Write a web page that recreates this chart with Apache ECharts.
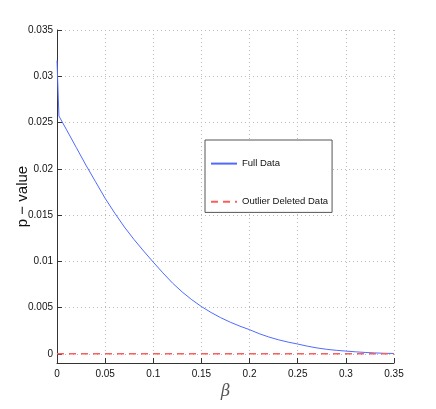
<!DOCTYPE html>
<html>
<head>
<meta charset="utf-8">
<script src="https://cdn.jsdelivr.net/npm/echarts@6/dist/echarts.min.js"></script>
<style>html,body{margin:0;padding:0;background:#fff;}#c{width:436px;height:409px;}</style>
</head>
<body>
<div id="c"></div>
<script>
const betas = [0, 0.002, 0.01, 0.02, 0.03, 0.04, 0.05, 0.06, 0.07, 0.08, 0.09, 0.1, 0.11, 0.12, 0.13, 0.14, 0.15, 0.16, 0.17, 0.18, 0.19, 0.2, 0.21, 0.22, 0.23, 0.24, 0.25, 0.26, 0.27, 0.28, 0.29, 0.3, 0.31, 0.32, 0.33, 0.34, 0.35];
const fullData = [0.0317, 0.0257, 0.0242, 0.0223, 0.0204, 0.0186, 0.0168, 0.0152, 0.0137, 0.01235, 0.0111, 0.0099, 0.00874, 0.00764, 0.00668, 0.00584, 0.0051, 0.00446, 0.0039, 0.00341, 0.00298, 0.0026, 0.00217, 0.00181, 0.00151, 0.00126, 0.00105, 0.00082, 0.00063, 0.00048, 0.00037, 0.00029, 0.00021, 0.00014, 0.00009, 0.00005, 0.00003];
const outlierBetas = [0, 0.35];
const outlierData = [0, 0];
const yTicks = [0, 0.005, 0.01, 0.015, 0.02, 0.025, 0.03, 0.035];
const seriesNames = ['Full Data', 'Outlier Deleted Data'];

const font = '"Liberation Sans", Arial, sans-serif';
const chart = echarts.init(document.getElementById('c'), null, {renderer: 'canvas'});
chart.setOption({
  animation: false,
  backgroundColor: '#fff',
  grid: {left: 57, right: 42, top: 30, bottom: 46, containLabel: false, outerBoundsMode: 'none'},
  legend: {
    orient: 'vertical', left: 205, top: 140,
    data: seriesNames,
    backgroundColor: '#fff', borderColor: '#555', borderWidth: 1,
    padding: [18, 4, 5, 5], itemGap: 27, itemWidth: 26, itemHeight: 14, itemTextGap: 4,
    itemStyle: {opacity: 0},
    textStyle: {fontFamily: font, fontSize: 9.5, color: '#111'}
  },
  xAxis: {
    type: 'value', min: 0, max: 0.35, interval: 0.05,
    name: 'β', nameLocation: 'middle', nameGap: 20,
    nameTextStyle: {fontFamily: 'DejaVu Serif, serif', fontStyle: 'italic', fontSize: 16, color: '#555'},
    axisLine: {show: true, onZero: false, lineStyle: {color: '#333', width: 1}},
    axisTick: {show: true, inside: true, length: 5, lineStyle: {color: '#333'}},
    axisLabel: {fontFamily: font, fontSize: 10, color: '#111', margin: 6},
    splitLine: {show: true, lineStyle: {color: '#bbb', type: [1, 3]}}
  },
  yAxis: {
    type: 'value', min: -0.001, max: 0.035,
    name: 'p − value', nameLocation: 'middle', nameGap: 27, nameMoveOverlap: false,
    nameTextStyle: {fontFamily: font, fontSize: 15, color: '#111'},
    axisLine: {show: true, onZero: false, lineStyle: {color: '#333', width: 1}},
    axisTick: {show: true, inside: true, length: 5, customValues: yTicks, lineStyle: {color: '#333'}},
    axisLabel: {fontFamily: font, fontSize: 10, color: '#111', margin: 4, customValues: yTicks},
    splitLine: {show: true, lineStyle: {color: '#bbb', type: [1, 3]}}
  },
  series: [
    {
      name: seriesNames[0], type: 'line', symbol: 'none',
      data: betas.map((b, i) => [b, fullData[i]]),
      lineStyle: {color: '#4f6bff', width: 1},
      itemStyle: {color: '#4f6bff'}
    },
    {
      name: seriesNames[1], type: 'line', symbol: 'none',
      data: outlierBetas.map((b, i) => [b, outlierData[i]]),
      lineStyle: {color: '#ff5c5c', width: 1.5, type: [7, 5]},
      itemStyle: {color: '#ff5c5c'}
    }
  ]
});
</script>
</body>
</html>
